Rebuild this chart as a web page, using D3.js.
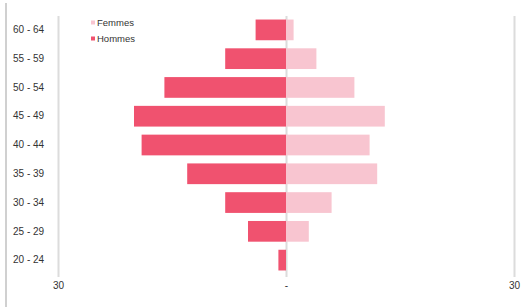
<!DOCTYPE html>
<html>
<head>
<meta charset="utf-8">
<script src="https://cdn.jsdelivr.net/npm/d3@7"></script>
<style>
    body { margin: 0; background: #fff; }
    text { font-family: "Liberation Sans", Arial, sans-serif; }
    .grid line { stroke: #dcdcdc; stroke-width: 2; }
    .grid path { display: none; }
    .xAxis path, .xAxis line { display: none; }
    .yAxis path, .yAxis line { display: none; }
</style>
</head>
<body>
<div id="pyramid"></div>
<script>
var ages = ["60 - 64", "55 - 59", "50 - 54", "45 - 49", "40 - 44", "35 - 39", "30 - 34", "25 - 29", "20 - 24"];
var hommes = [4, 8, 16, 20, 19, 13, 8, 5, 1];
var femmes = [1, 4, 9, 13, 11, 12, 6, 3, 0];
var xTicks = [-30, 0, 30];
var series = ["Femmes", "Hommes"];

var width = 528, height = 307;
var colors = { Hommes: "#f0526f", Femmes: "#f8c5d0" };

var svg = d3.select("#pyramid").append("svg")
    .attr("width", width)
    .attr("height", height);

var xScale = d3.scaleLinear()
    .domain([-30, 30])
    .range([58, 514]);

var yScale = d3.scaleBand()
    .domain(ages)
    .range([15.5, 274.5])
    .paddingInner(0.28)
    .paddingOuter(0.14);

// left frame line
svg.append("line")
    .attr("x1", 6).attr("x2", 6)
    .attr("y1", 3).attr("y2", height)
    .attr("stroke", "#d0d0d0")
    .attr("stroke-width", 2);

// vertical grid lines at -30, 0, 30
svg.append("g")
    .attr("class", "grid")
    .attr("transform", "translate(0,16)")
    .call(d3.axisBottom(xScale)
        .tickValues(xTicks)
        .tickSize(261)
        .tickFormat(""));

var rows = ages.map(function (a, i) {
    return { age: a, hommes: hommes[i], femmes: femmes[i] };
});

svg.selectAll(".hommes")
    .data(rows)
    .enter()
    .append("rect")
    .attr("class", "hommes")
    .attr("x", function (d) { return xScale(-d.hommes); })
    .attr("y", function (d) { return yScale(d.age); })
    .attr("width", function (d) { return xScale(0) - xScale(-d.hommes); })
    .attr("height", yScale.bandwidth())
    .attr("fill", colors.Hommes);

svg.selectAll(".femmes")
    .data(rows)
    .enter()
    .append("rect")
    .attr("class", "femmes")
    .attr("x", xScale(0))
    .attr("y", function (d) { return yScale(d.age); })
    .attr("width", function (d) { return xScale(d.femmes) - xScale(0); })
    .attr("height", yScale.bandwidth())
    .attr("fill", colors.Femmes);

// age labels
svg.append("g")
    .attr("class", "yAxis")
    .attr("transform", "translate(13,0)")
    .call(d3.axisRight(yScale).tickSize(0).tickPadding(0))
    .selectAll("text")
    .attr("font-size", 10)
    .attr("fill", "#333")
    .attr("text-anchor", "start");

// bottom labels
svg.append("g")
    .attr("class", "xAxis")
    .attr("transform", "translate(0,279)")
    .call(d3.axisBottom(xScale)
        .tickValues(xTicks)
        .tickSize(0)
        .tickPadding(3)
        .tickFormat(function (d) { return d === 0 ? "-" : Math.abs(d); }))
    .selectAll("text")
    .attr("font-size", 10)
    .attr("fill", "#333");

// legend
var legend = svg.append("g").selectAll("g")
    .data(series)
    .enter()
    .append("g")
    .attr("transform", function (d, i) { return "translate(91," + (20.5 + i * 16) + ")"; });

legend.append("rect")
    .attr("width", 4)
    .attr("height", 4)
    .attr("fill", function (d) { return colors[d]; });

legend.append("text")
    .attr("x", 6)
    .attr("y", 2)
    .attr("dy", "0.35em")
    .attr("font-size", 9.5)
    .attr("fill", "#333")
    .text(function (d) { return d; });
</script>
</body>
</html>
